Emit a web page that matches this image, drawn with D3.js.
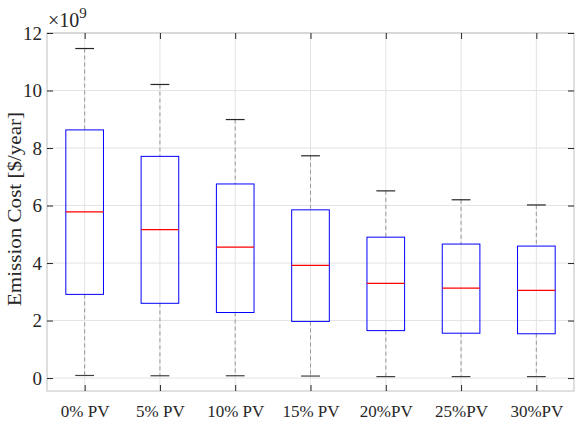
<!DOCTYPE html>
<html>
<head>
<meta charset="utf-8">
<script src="https://cdn.jsdelivr.net/npm/d3@7"></script>
<style>
  body { margin: 0; background: #fff; }
  svg, svg text { font-family: "Liberation Serif", "Times New Roman", serif; }
</style>
</head>
<body>
<div id="chart"></div>
<script>
// box plot stats, in units of 1e9 $/year
const categories = ["0% PV", "5% PV", "10% PV", "15% PV", "20%PV", "25%PV", "30%PV"];
const whiskerHigh = [11.46, 10.21, 8.99, 7.73, 6.51, 6.20, 6.02];
const q3Values    = [8.63, 7.71, 6.75, 5.85, 4.90, 4.66, 4.59];
const medians     = [5.78, 5.16, 4.55, 3.92, 3.29, 3.13, 3.05];
const q1Values    = [2.91, 2.60, 2.28, 1.97, 1.65, 1.56, 1.54];
const whiskerLow  = [0.09, 0.08, 0.08, 0.07, 0.05, 0.05, 0.05];
const yTicks = [0, 2, 4, 6, 8, 10, 12];

const W = 575, H = 421;
const margin = { top: 33, right: 1, bottom: 30, left: 47 };
const width = W - margin.left - margin.right;
const height = H - margin.top - margin.bottom;

const svg = d3.select("#chart").append("svg")
    .attr("width", W)
    .attr("height", H);

const g = svg.append("g")
    .attr("transform", "translate(" + margin.left + "," + margin.top + ")");

const x = d3.scaleLinear().domain([0.5, categories.length + 0.5]).range([0, width]);
const y = d3.scaleLinear().domain([-0.45, 12]).range([height, 0]);

const data = categories.map((c, i) => ({
    name: c, pos: i + 1,
    hi: whiskerHigh[i], q3: q3Values[i], med: medians[i], q1: q1Values[i], lo: whiskerLow[i]
}));

// grid
g.selectAll("line.ygrid").data(yTicks).enter().append("line")
    .attr("x1", 0).attr("x2", width)
    .attr("y1", d => y(d)).attr("y2", d => y(d))
    .attr("stroke", "#e3e3e3").attr("stroke-width", 1);
g.selectAll("line.xgrid").data(data).enter().append("line")
    .attr("x1", d => x(d.pos)).attr("x2", d => x(d.pos))
    .attr("y1", 0).attr("y2", height)
    .attr("stroke", "#e3e3e3").attr("stroke-width", 1);

// box frame
g.append("rect")
    .attr("x", 0).attr("y", 0).attr("width", width).attr("height", height)
    .attr("fill", "none").attr("stroke", "#c0c0c0").attr("stroke-width", 1);

// axes with inward ticks
const serif = "'Liberation Serif', 'Times New Roman', serif";

const yAxis = g.append("g")
    .call(d3.axisLeft(y).tickValues(yTicks).tickSize(-6).tickPadding(5));
yAxis.attr("font-family", serif);
yAxis.select(".domain").remove();
yAxis.selectAll("line").attr("stroke", "#262626");
yAxis.selectAll("text").style("font-size", "19px").attr("fill", "#262626");

const yAxisR = g.append("g").attr("transform", "translate(" + width + ",0)")
    .call(d3.axisRight(y).tickValues(yTicks).tickSize(-6).tickFormat(""));
yAxisR.select(".domain").remove();
yAxisR.selectAll("line").attr("stroke", "#262626");

const xAxis = g.append("g").attr("transform", "translate(0," + height + ")")
    .call(d3.axisBottom(x).tickValues(data.map(d => d.pos))
        .tickFormat((d, i) => categories[i]).tickSize(-6).tickPadding(14));
xAxis.attr("font-family", serif);
xAxis.select(".domain").remove();
xAxis.selectAll("line").attr("stroke", "#262626");
xAxis.selectAll("text").style("font-size", "17px").attr("fill", "#262626");

const xAxisT = g.append("g")
    .call(d3.axisTop(x).tickValues(data.map(d => d.pos)).tickSize(-6).tickFormat(""));
xAxisT.select(".domain").remove();
xAxisT.selectAll("line").attr("stroke", "#262626");

// boxes
const boxW = x(1.25) - x(1);
const capW = x(1.125) - x(1);

const boxes = g.selectAll("g.box").data(data).enter().append("g").attr("class", "box");

boxes.append("line")
    .attr("x1", d => x(d.pos)).attr("x2", d => x(d.pos))
    .attr("y1", d => y(d.hi)).attr("y2", d => y(d.q3))
    .attr("stroke", "#999").attr("stroke-dasharray", "4,3");
boxes.append("line")
    .attr("x1", d => x(d.pos)).attr("x2", d => x(d.pos))
    .attr("y1", d => y(d.q1)).attr("y2", d => y(d.lo))
    .attr("stroke", "#999").attr("stroke-dasharray", "4,3");

boxes.append("line")
    .attr("x1", d => x(d.pos) - capW).attr("x2", d => x(d.pos) + capW)
    .attr("y1", d => y(d.hi)).attr("y2", d => y(d.hi))
    .attr("stroke", "#262626").attr("stroke-width", 1.2);
boxes.append("line")
    .attr("x1", d => x(d.pos) - capW).attr("x2", d => x(d.pos) + capW)
    .attr("y1", d => y(d.lo)).attr("y2", d => y(d.lo))
    .attr("stroke", "#404040").attr("stroke-width", 1.2);

boxes.append("rect")
    .attr("x", d => x(d.pos) - boxW).attr("width", 2 * boxW)
    .attr("y", d => y(d.q3)).attr("height", d => y(d.q1) - y(d.q3))
    .attr("fill", "none").attr("stroke", "#0000ff").attr("stroke-width", 1);

boxes.append("line")
    .attr("x1", d => x(d.pos) - boxW).attr("x2", d => x(d.pos) + boxW)
    .attr("y1", d => y(d.med)).attr("y2", d => y(d.med))
    .attr("stroke", "#ff0000").attr("stroke-width", 1.2);

// exponent label
const expo = svg.append("text")
    .attr("x", margin.left + 1).attr("y", 27)
    .attr("fill", "#262626").style("font-size", "20px");
expo.append("tspan").text("\u00d710");
expo.append("tspan").attr("dy", -9).style("font-size", "15px").text("9");

// y label
svg.append("text")
    .attr("transform", "translate(21," + (margin.top + height / 2 - 3) + ") rotate(-90)")
    .attr("text-anchor", "middle")
    .attr("fill", "#262626")
    .style("font-size", "18px")
    .attr("textLength", 194)
    .attr("lengthAdjust", "spacingAndGlyphs")
    .text("Emission Cost [$/year]");
</script>
</body>
</html>
